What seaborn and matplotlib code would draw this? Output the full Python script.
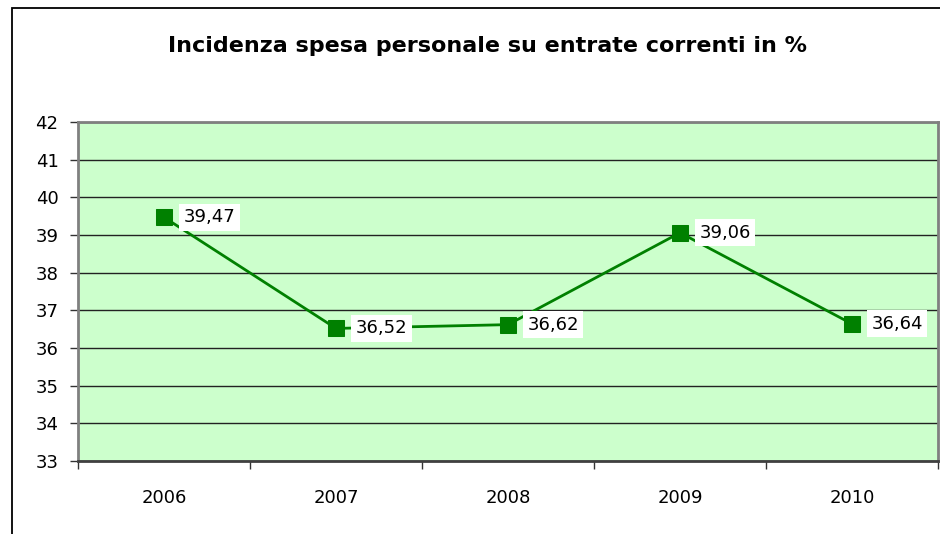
import matplotlib
matplotlib.use("Agg")
import matplotlib.pyplot as plt
import seaborn as sns
import pandas as pd
from matplotlib.patches import Rectangle

years = ["2006", "2007", "2008", "2009", "2010"]
values = [39.47, 36.52, 36.62, 39.06, 36.64]
labels = ["39,47", "36,52", "36,62", "39,06", "36,64"]
yticks = [33, 34, 35, 36, 37, 38, 39, 40, 41, 42]
title = "Incidenza spesa personale su entrate correnti in %"

sns.set_style("white")
plt.rcParams["font.family"] = ["DejaVu Sans"]
plt.rcParams["text.color"] = "black"
plt.rcParams["xtick.color"] = "black"
plt.rcParams["ytick.color"] = "black"

df = pd.DataFrame({"year": years, "value": values})

fig = plt.figure(figsize=(9.4, 5.34), dpi=100)
W, H = 940, 534
ax = fig.add_axes([78 / W, 1 - 461 / H, (938 - 78) / W, (461 - 122) / H])

# figure frame
fig.patches.append(Rectangle((12 / W, -0.1), 1.2, 1 - 8 / H + 0.1, transform=fig.transFigure,
                             fill=False, edgecolor="black", linewidth=1.3))

ax.set_facecolor("#CCFFCC")
sns.lineplot(data=df, x="year", y="value", ax=ax, color="#008000", linewidth=2,
             marker="s", markersize=11, markeredgecolor="#008000", markerfacecolor="#008000",
             sort=False, zorder=3)

ax.set_xlim(-0.5, 4.5)
ax.set_ylim(33, 42)
ax.set_yticks(yticks)
ax.set_yticklabels([str(t) for t in yticks], fontsize=13)
ax.set_xticks([i - 0.5 for i in range(len(years) + 1)])
ax.set_xticklabels([""] * (len(years) + 1))
ax.set_xticks(range(len(years)), minor=True)
ax.set_xticklabels(years, minor=True, fontsize=13)
ax.tick_params(axis="x", which="minor", length=0, pad=20)
ax.tick_params(axis="x", which="major", length=6, width=1, color="#333333", direction="out", bottom=True)
ax.tick_params(axis="y", length=6, width=1, color="#333333", direction="out", left=True, pad=8)
ax.set_xlabel("")
ax.set_ylabel("")
ax.yaxis.grid(True, color="#222222", linewidth=1)
ax.set_axisbelow(True)
for s in ax.spines.values():
    s.set_color("#808080")
    s.set_linewidth(2)
ax.spines["bottom"].set_color("#404040")

for i, (v, lab) in enumerate(zip(values, labels)):
    ax.annotate(lab, (i, v), xytext=(14, 0), textcoords="offset points", ha="left", va="center",
                fontsize=13, bbox=dict(boxstyle="square,pad=0.25", facecolor="white", edgecolor="none"),
                zorder=4)

fig.text(487 / W, 1 - 46 / H, title, ha="center", va="center", fontsize=16, fontweight="bold")

fig.savefig("out.png", dpi=100)
